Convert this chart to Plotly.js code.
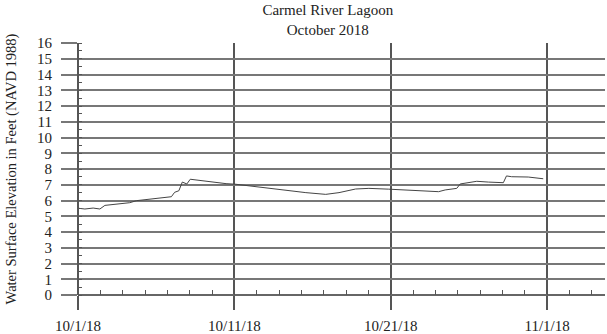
<!DOCTYPE html>
<html>
<head>
<meta charset="utf-8">
<script src="https://cdn.plot.ly/plotly-3.0.1.min.js"></script>
<style>html,body{margin:0;padding:0;background:#fff;}#chart{width:607px;height:334px;}</style>
</head>
<body>
<div id="chart"></div>
<script>
// Days since 10/1/18 (axis drawn with major ticks every 10 units)
const days = [0, 0.44, 0.97, 1.4, 1.72, 2.25, 3.31, 3.74, 4.59, 5.97, 6.18, 6.45, 6.67, 6.96, 7.18, 7.56, 8.4, 9.47, 10.1,
  10.96, 12.87, 14.57, 15.84, 16.69, 17.75, 18.6, 19.87, 21.15, 23.06, 23.48, 24.22, 24.44, 24.75, 25.5, 26.24, 27.2,
  27.4, 27.73, 28.79, 29.75];
const elevation = [5.51, 5.46, 5.52, 5.46, 5.69, 5.76, 5.86, 5.99, 6.09, 6.24, 6.52, 6.62, 7.17, 7.05, 7.35, 7.3, 7.2, 7.07, 7.03,
  6.92, 6.67, 6.5, 6.39, 6.5, 6.73, 6.77, 6.72, 6.67, 6.56, 6.67, 6.77, 7.05, 7.09, 7.22, 7.17, 7.13,
  7.56, 7.51, 7.49, 7.38];
const xTickVals = [0, 10, 20, 30];
const xTickText = ["10/1/18", "10/11/18", "10/21/18", "11/1/18"];
const yTickVals = [0,1,2,3,4,5,6,7,8,9,10,11,12,13,14,15,16];

const serif = "Liberation Serif, Times New Roman, serif";
const trace = {
  x: days, y: elevation, type: 'scatter', mode: 'lines',
  line: {color: '#444', width: 1}, hoverinfo: 'skip'
};
const layout = {
  width: 607, height: 334,
  margin: {l: 78, r: 2, t: 43, b: 39},
  paper_bgcolor: '#fff', plot_bgcolor: '#fff',
  showlegend: false,
  font: {family: serif, size: 15, color: '#222'},
  title: {
    text: "Carmel River Lagoon<br>October 2018",
    font: {family: serif, size: 15, color: '#222'},
    xref: 'container', x: 0.54, xanchor: 'center',
    yref: 'container', y: 0.955, yanchor: 'top'
  },
  xaxis: {
    range: [0, 33.7], fixedrange: true,
    tickmode: 'array', tickvals: xTickVals, ticktext: xTickText,
    ticks: 'outside', ticklen: 14, tickwidth: 2, tickcolor: '#555',
    showgrid: true, gridcolor: '#555', gridwidth: 2,
    zeroline: true, zerolinecolor: '#555', zerolinewidth: 2,
    showline: false,
    ticklabelstandoff: 3,
    tickfont: {family: serif, size: 15, color: '#222'},
    minor: {dtick: 10/7, tick0: 0, ticks: 'inside', ticklen: 5, tickwidth: 1, tickcolor: '#555', showgrid: false}
  },
  yaxis: {
    range: [0, 16], fixedrange: true,
    tickmode: 'array', tickvals: yTickVals,
    ticks: 'outside', ticklen: 16, tickwidth: 2, tickcolor: '#777',
    showgrid: true, gridcolor: '#777', gridwidth: 2,
    zeroline: true, zerolinecolor: '#666', zerolinewidth: 2,
    showline: false,
    ticklabelstandoff: 6,
    tickfont: {family: serif, size: 15, color: '#222'},
    minor: {dtick: 0.5, tick0: 0, ticks: 'inside', ticklen: 4, tickwidth: 1, tickcolor: '#555', showgrid: false},
    title: {text: "Water Surface Elevation in Feet (NAVD 1988)", font: {family: serif, size: 14.5, color: '#222'}, standoff: 16}
  }
};
Plotly.newPlot('chart', [trace], layout, {staticPlot: true, displayModeBar: false});
</script>
</body>
</html>
